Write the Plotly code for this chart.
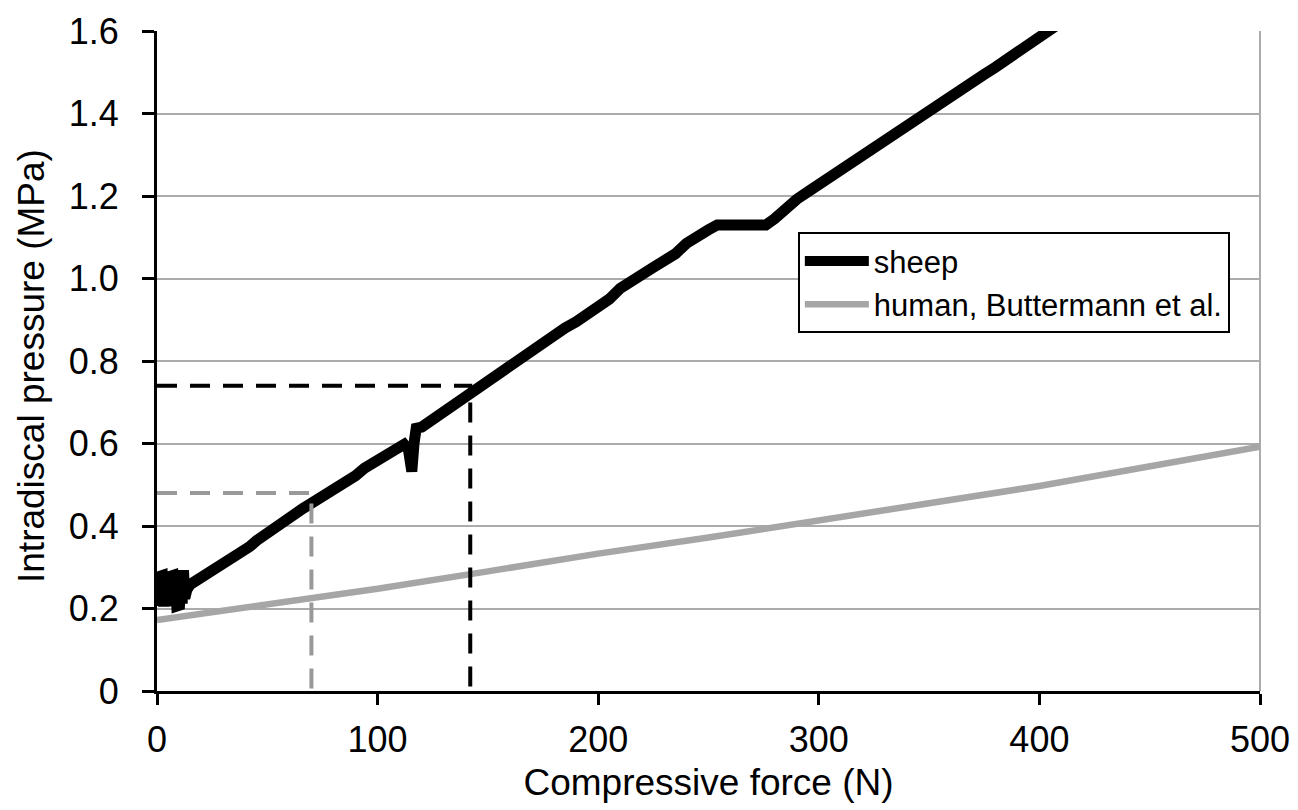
import plotly.graph_objects as go

# ---------------- data ----------------
sheep_x = [0, 0.6, 1.2, 1.8, 2.4, 3, 3.6, 4.2, 4.8, 5.4, 6, 6.6, 7.2, 7.8, 8.4, 9, 9.6, 10.2, 10.8, 11.4,
           12, 12.6, 13.5, 15, 18, 21, 24, 27, 30, 33, 36, 39, 42, 45, 48, 51, 54, 57, 60, 63, 66, 70,
           74, 78, 82, 86, 90, 94, 98, 102, 106, 110, 112, 114, 115.5, 116.5, 117.5, 120, 124, 128, 132,
           136, 140, 144, 148, 152, 156, 160, 165, 170, 175, 180, 185, 190, 195, 200, 205, 210, 215, 220,
           225, 230, 235, 240, 245, 250, 254, 260, 265, 270, 276, 280, 285, 290, 295, 300, 305, 310, 315,
           320, 325, 330, 335, 340, 345, 350, 355, 360, 365, 370, 375, 380, 385, 390, 395, 400, 405, 410, 415]
sheep_y = [0.25, 0.207, 0.278, 0.207, 0.28, 0.205, 0.278, 0.207, 0.278, 0.206, 0.278, 0.207, 0.28, 0.207,
           0.278, 0.206, 0.276, 0.208, 0.27, 0.212, 0.293, 0.225, 0.245, 0.258, 0.268, 0.276, 0.286, 0.294,
           0.305, 0.318, 0.326, 0.338, 0.35, 0.364, 0.376, 0.39, 0.402, 0.41, 0.422, 0.432, 0.442, 0.455,
           0.468, 0.478, 0.492, 0.505, 0.522, 0.54, 0.552, 0.565, 0.58, 0.594, 0.598, 0.585, 0.532, 0.6,
           0.637, 0.64, 0.655, 0.672, 0.683, 0.698, 0.712, 0.728, 0.742, 0.755, 0.772, 0.788, 0.805, 0.83,
           0.846, 0.862, 0.88, 0.895, 0.912, 0.932, 0.95, 0.976, 0.99, 1.01, 1.027, 1.042, 1.06, 1.085,
           1.105, 1.118, 1.13, 1.13, 1.13, 1.13, 1.13, 1.145, 1.172, 1.192, 1.21, 1.228, 1.25, 1.265,
           1.285, 1.302, 1.32, 1.337, 1.355, 1.376, 1.39, 1.41, 1.43, 1.445, 1.463, 1.478, 1.495, 1.512,
           1.53, 1.545, 1.565, 1.577, 1.597, 1.618, 1.64]

human_x = [0, 50, 100, 150, 200, 250, 300, 350, 400, 450, 500]
human_y = [0.172, 0.21, 0.248, 0.29, 0.333, 0.372, 0.412, 0.455, 0.497, 0.545, 0.592]

# reference readings (force, pressure)
ref_black = (142, 0.74)
ref_gray = (70, 0.48)

x_tickvals = [0, 100, 200, 300, 400, 500]
y_tickvals = [0, 0.2, 0.4, 0.6, 0.8, 1.0, 1.2, 1.4, 1.6]
y_ticktext = ["0", "0.2", "0.4", "0.6", "0.8", "1.0", "1.2", "1.4", "1.6"]

x_title = "Compressive force (N)"
y_title = "Intradiscal pressure (MPa)"

FONT = "Liberation Sans, Arial, sans-serif"
GRID = "#ababab"
GRAY_LINE = "#a6a6a6"

fig = go.Figure()

fig.add_trace(go.Scatter(x=sheep_x, y=sheep_y, mode="lines", name="sheep",
                         line=dict(color="black", width=11)))
fig.add_trace(go.Scatter(x=human_x, y=human_y, mode="lines", name="human, Buttermann et al.",
                         line=dict(color=GRAY_LINE, width=6.5)))

bx, by = ref_black
gx, gy = ref_gray
fig.add_trace(go.Scatter(x=[0, bx, bx], y=[by, by, 0], mode="lines", showlegend=False,
                         line=dict(color="black", width=4, dash="20px,13px"), hoverinfo="skip"))
fig.add_trace(go.Scatter(x=[0, gx, gx], y=[gy, gy, 0], mode="lines", showlegend=False,
                         line=dict(color="#999999", width=4, dash="20px,13px"), hoverinfo="skip"))

# right border of plot area
fig.add_shape(type="line", xref="paper", yref="paper", x0=1, x1=1, y0=0, y1=1,
              line=dict(color=GRID, width=2), layer="below")

# y-axis title as rotated text
fig.add_annotation(text=y_title, textangle=-90, xref="paper", yref="paper",
                   x=0, y=0.5, xanchor="center", yanchor="middle",
                   xshift=-126, yshift=-5, showarrow=False,
                   font=dict(size=37, family=FONT, color="black"))

fig.update_layout(
    width=1290, height=802,
    margin=dict(l=149, r=38, t=23, b=119, autoexpand=False),
    paper_bgcolor="white", plot_bgcolor="white",
    font=dict(family=FONT, color="black"),
    showlegend=True,
    legend=dict(x=0.581, y=0.695, xanchor="left", yanchor="top",
                bgcolor="white", bordercolor="black", borderwidth=2,
                font=dict(size=31, family=FONT, color="black"),
                itemwidth=64, tracegroupgap=0),
    xaxis=dict(range=[0, 500], tickvals=x_tickvals, showgrid=False, zeroline=False,
               showline=True, linecolor="black", linewidth=3, automargin=False,
               ticks="outside", ticklen=11, tickwidth=3, tickcolor="black",
               tickfont=dict(size=36, family=FONT, color="black"), ticklabelstandoff=4,
               ticklabeloverflow="allow",
               title=dict(text=x_title, font=dict(size=37, family=FONT, color="black"),
                          standoff=10)),
    yaxis=dict(range=[0, 1.6], tickvals=y_tickvals, ticktext=y_ticktext,
               showgrid=True, gridcolor=GRID, gridwidth=2, zeroline=False,
               showline=True, linecolor="black", linewidth=3, automargin=False,
               ticks="outside", ticklen=12, tickwidth=3, tickcolor="black",
               tickfont=dict(size=36, family=FONT, color="black"), ticklabelstandoff=16,
               ticklabeloverflow="allow"),
)

fig.write_html("out.html")
